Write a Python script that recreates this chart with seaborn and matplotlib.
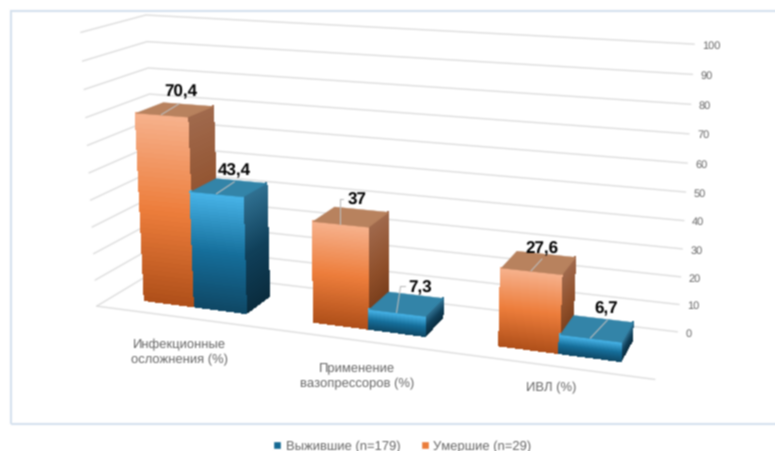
import numpy as np
import matplotlib
matplotlib.use("Agg")
import matplotlib.pyplot as plt
import seaborn as sns
from matplotlib.lines import Line2D
from matplotlib.patches import Patch, Rectangle
from matplotlib.transforms import IdentityTransform
from mpl_toolkits.mplot3d import proj3d

sns.set_theme(style="white")
plt.rcParams["font.family"] = ["Liberation Sans", "DejaVu Sans"]
plt.rcParams["text.hinting"] = "no_hinting"
plt.rcParams["text.hinting_factor"] = 1

# -----------------------------
# Data
# -----------------------------
categories = ["Инфекционные\nосложнения (%)", "Применение\nвазопрессоров (%)", "ИВЛ (%)"]
dead = [70.4, 37, 27.6]
alive = [43.4, 7.3, 6.7]
dead_name = "Умершие (n=29)"
alive_name = "Выжившие (n=179)"
z_ticks = list(range(0, 101, 10))

W, H = 775, 452
GAP = 0.195          # free space each side of a cluster
DEPTH = (0.258, 0.697)
TEXT = "#666666"
GRID = "#DEDEDE"

# offsets from the bar's front top edge to its label, then the leader path (pixels, y up)
label_off = [[(19, 24), (18, 24)], [(17, 24), (24, 26)], [(11, 23), (16, 30)]]
leader_off = [[[(18, 11)], [(18, 12)]],
              [[(0, 25), (3, 25)], [(4, 26), (9, 26)]],
              [[(11, 12)], [(17, 18)]]]
cat_pos = [(179, 352), (357, 376.5), (551, 388)]

# top, middle, bottom of each face
pal_dead = sns.blend_palette(["#F6B08A", "#ED7D3B", "#B0501A"], 40)
pal_dead_side = sns.blend_palette(["#A0694C", "#8F4F2A", "#6E3514"], 40)
pal_alive = sns.blend_palette(["#46B2E6", "#156E9A", "#0F4866"], 40)
pal_alive_side = sns.blend_palette(["#2F6F90", "#10405A", "#0A2C3E"], 40)
top_dead, top_alive = "#B8825E", "#3384A8"


def soften(img, dpi):
    # the reference is a slightly soft screenshot
    out = np.pad(img, ((1, 1), (1, 1), (0, 0)), mode="edge")
    for axis in (0, 1):
        out = (np.roll(out, 1, axis) + 2 * out + np.roll(out, -1, axis)) / 4
    return out[1:-1, 1:-1], 0, 0


# -----------------------------
# Camera
# -----------------------------
fig = plt.figure(figsize=(W / 100, H / 100), dpi=100, facecolor="white")
fig.set_agg_filter(soften)
ax = fig.add_subplot(projection="3d", computed_zorder=False)
ax.set_xlim(0, 3)
ax.set_ylim(0, 1)
ax.set_zlim(0, 100)
ax.view_init(elev=15.1322, azim=-69.7779, roll=0.0813)
ax.set_proj_type("persp", focal_length=0.4069)
ax.set_box_aspect((1.949, 0.4379, 1))
ax.set_axis_off()
ax.patch.set_visible(False)

# keep a non square axes box so the picture's slight stretch can be matched
ax.apply_aspect = lambda position=None: None
x0, x1 = ax.viewLim.intervalx
y0, y1 = ax.viewLim.intervaly
sx, tx, sy, ty = 3529.133, 379.362, 3404.641, 183.203
ax.set_position([(tx + sx * x0) / W, (H - ty + sy * y0) / H, sx * (x1 - x0) / W, sy * (y1 - y0) / H])


def to_pixels(x, y, z):
    X, Y, _ = proj3d.proj_transform(x, y, z, ax.get_proj())
    return ax.transData.transform((X, Y))


# -----------------------------
# Walls and grid
# -----------------------------
for z in z_ticks:
    ax.plot([0, 0, 3], [0, 1, 1], [z, z, z], color=GRID, lw=1, zorder=1)
    px, py = to_pixels(3.04, 1, z)
    fig.text(px, py, str(z), transform=IdentityTransform(), color=TEXT, fontsize=7.6,
             ha="left", va="center")
ax.plot([0, 3], [0, 0], [0, 0], color=GRID, lw=1, zorder=1)


# -----------------------------
# Bars
# -----------------------------
def face(xs, ys, v, colors, order):
    # strips from the top of the bar down, each with its own colour
    n = len(colors)
    zz = np.linspace(v, 0, n + 1)
    X = np.tile(xs, (n + 1, 1))
    Y = np.tile(ys, (n + 1, 1))
    Z = np.tile(zz[:, None], (1, 2))
    fc = np.array(colors)[:, None, :]
    ax.plot_surface(X, Y, Z, facecolors=fc, rstride=1, cstride=1, shade=False,
                    linewidth=0.5, antialiased=False, zorder=order)


def bar(xa, xb, v, front, side, top, order):
    d0, d1 = DEPTH
    face([xb, xb], [d0, d1], v, side, order)
    face([xa, xb], [d0, d0], v, front, order)
    ax.plot_surface(np.array([[xa, xb], [xa, xb]]), np.array([[d0, d0], [d1, d1]]),
                    np.full((2, 2), v), color=top, shade=False, linewidth=0.3,
                    edgecolor=top, zorder=order)


order = 10
for i in range(len(categories)):
    bar(i + GAP, i + 0.5, dead[i], pal_dead, pal_dead_side, top_dead, order)
    bar(i + 0.5, i + 1 - GAP, alive[i], pal_alive, pal_alive_side, top_alive, order + 1)
    order += 2

# -----------------------------
# Labels, leaders, text
# -----------------------------
for i in range(len(categories)):
    centres = [i + GAP + (0.5 - GAP) / 2, i + 0.5 + (0.5 - GAP) / 2]
    for j, (xc, v) in enumerate(zip(centres, [dead[i], alive[i]])):
        px, py = to_pixels(xc, DEPTH[0], v)
        path = [(0, 0)] + leader_off[i][j]
        fig.add_artist(Line2D([px + a for a, _ in path], [py + b for _, b in path],
                              transform=IdentityTransform(), color="#BDBDBD", lw=0.8, zorder=5))
        dx, dy = label_off[i][j]
        label = f"{v:g}".replace(".", ",")
        fig.text(px + dx, py + dy, label, transform=IdentityTransform(), fontsize=12.6,
                 fontweight="bold", color="black", ha="center", va="center", zorder=6)
    cx, cy = cat_pos[i]
    fig.text(cx / W, 1 - cy / H, categories[i], color=TEXT, fontsize=9.7, ha="center", va="center",
             linespacing=1.3)

fig.add_artist(Rectangle((10.5 / W, 1 - 425 / H), 800 / W, 413.5 / H, transform=fig.transFigure,
                         fill=False, edgecolor="#D6E2EE", lw=1.5, zorder=-1))

handles = [Patch(facecolor=pal_alive[22], label=alive_name), Patch(facecolor=pal_dead[20], label=dead_name)]
fig.legend(handles=handles, ncol=2, frameon=False, loc="center", bbox_to_anchor=(402.5 / W, 1 - 447 / H),
           fontsize=9.5, labelcolor=TEXT, handlelength=0.6, handleheight=0.6, handletextpad=0.35,
           columnspacing=1.55, borderpad=0)

fig.savefig("out.png", dpi=100, facecolor="white")
